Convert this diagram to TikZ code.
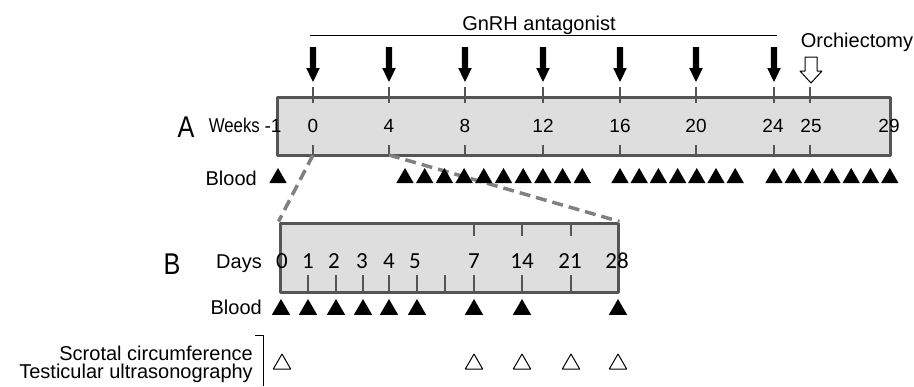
\documentclass[tikz,border=0pt]{standalone}
\usepackage{fontspec}
\setmainfont{Liberation Sans}
\newfontfamily\daysfont{Carlito}
\newfontfamily\narrowfont{Liberation Sans}[FakeStretch=0.84]
\usetikzlibrary{shapes.geometric}
\definecolor{boxline}{RGB}{85,85,85}
\definecolor{boxfill}{RGB}{222,222,222}
\definecolor{zoomline}{RGB}{128,128,128}
\tikzset{
  dosearrow/.pic={\fill[black] (-3.2,0) -- (3.2,0) -- (3.2,21) -- (6.8,21) -- (0,35) -- (-6.8,21) -- (-3.2,21) -- cycle;},
  castarrow/.pic={\draw[black, line width=1pt, fill=white] (-6,0) -- (6,0) -- (6,14) -- (11,14) -- (0,26) -- (-11,14) -- (-6,14) -- cycle;}
}
\begin{document}
\begin{tikzpicture}[x=1pt, y=-1pt, line join=round,
  lbl/.style={inner sep=0, font=\fontsize{20}{22}\selectfont},
  wknum/.style={inner sep=0, anchor=base, font=\fontsize{19}{20}\selectfont},
  daynum/.style={inner sep=0, anchor=base, font=\daysfont\fontsize{23}{25}\selectfont},
  panel/.style={inner sep=0, anchor=base, font=\narrowfont\fontsize{30}{30}\selectfont},
  tl/.style={boxline, line width=2.5pt},
  timebox/.style={draw=boxline, line width=3pt, fill=boxfill, inner sep=0},
  blood/.style={regular polygon, regular polygon sides=3, fill=black, inner sep=0, minimum size=20pt},
  exam/.style={regular polygon, regular polygon sides=3, draw=black, line width=1pt, fill=white, inner sep=0, minimum size=20pt},
  zoomlink/.style={zoomline, line width=3.5pt, dash pattern=on 11pt off 6pt}]
\useasboundingbox (0,0) rectangle (914,386);

\node[timebox, minimum width=613pt, minimum height=57.5pt] (wbox) at (583.5,126.25) {};
\node[timebox, minimum width=338pt, minimum height=69pt] (dbox) at (449,257.5) {};
\coordinate (w0) at (313,155);
\coordinate (w4) at (389,155);

\foreach \x in {313,389,465,543,620,696,774,810}
{\draw[tl] (\x,87) -- (\x,103);
 \draw[tl] (\x,145) -- (\x,155);}
\foreach \x in {474,522,571}
\draw[tl] (\x,223) -- (\x,236);
\foreach \x in {308,336,363,389,417,445,474,522,571}
\draw[tl] (\x,275) -- (\x,292);

\draw[zoomlink] (w0) -- (dbox.north west);
\draw[zoomlink] (w4) -- (dbox.north east);

\node[lbl, anchor=base] (gnrh) at (539,30) {GnRH antagonist};
\draw[black, line width=0.8pt] (310,35) -- (777,35);
\node[lbl, anchor=base] (orchi) at (857,47) {Orchiectomy};
\foreach \x in {313,389,465,543,620,696,774}
\pic at (\x,47) {dosearrow};
\pic at (811,57) {castarrow};

\node[panel] (pA) at (186,137) {A};
\node[lbl, anchor=base east, font=\narrowfont\fontsize{20}{22}\selectfont] (weeks) at (260,132) {Weeks};
\foreach \x/\w in {273/-1,313/0,389/4,465/8,543/12,620/16,696/20,773/24,811/25,889/29}
\node[wknum] (wk\w) at (\x,132) {\w};

\node[lbl, anchor=base east] (bloodA) at (257,185) {Blood};
\node[blood] (ba) at (278,178) {};
\foreach \i in {0,...,9}
\node[blood] (bb\i) at ({405+19.7*\i},178) {};
\foreach \i in {0,...,6}
\node[blood] (bc\i) at ({620+19.2*\i},178) {};
\foreach \i in {0,...,6}
\node[blood] (bd\i) at ({774+19.3*\i},178) {};

\node[panel] (pB) at (172,274) {B};
\node[lbl, anchor=base east] (days) at (262,268) {Days};
\foreach \x/\d in {282/0,308/1,334/2,362/3,389/4,415/5,474/7,522/14,570/21,617/28}
\node[daynum] (d\d) at (\x,268) {\d};

\node[lbl, anchor=base east] (bloodB) at (262,314) {Blood};
\foreach \x/\d in {281/0,308/1,336/2,363/3,389/4,417/5,474/7,522/14,618/28}
\node[blood, minimum size=21pt] (bl\d) at (\x,309.5) {};

\node[lbl, anchor=base east] (scrotal) at (253,360) {Scrotal circumference};
\node[lbl, anchor=base east] (testic) at (253,378) {Testicular ultrasonography};
\draw[black, line width=0.8pt] (255,335) -- (263,335) -- (263,386);
\foreach \x/\d in {282/0,474/7,522/14,571/21,618/28}
\node[exam] (ex\d) at (\x,364) {};
\end{tikzpicture}
\end{document}
